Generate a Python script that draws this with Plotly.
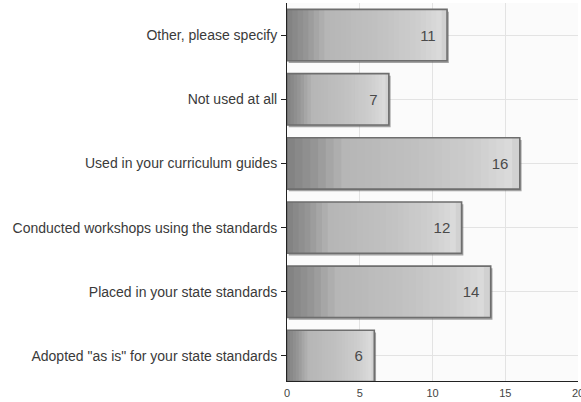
import plotly.graph_objects as go

categories = [
    'Adopted "as is" for your state standards',
    "Placed in your state standards",
    "Conducted workshops using the standards",
    "Used in your curriculum guides",
    "Not used at all",
    "Other, please specify",
]
values = [6, 14, 12, 16, 7, 11]
x_ticks = [0, 5, 10, 15, 20]

# gradient stops (fraction of bar length, gray level)
stops = [(0.0, 128), (0.12, 150), (0.25, 182), (0.55, 192), (0.8, 205), (0.95, 218), (1.0, 205)]

def gray_at(f):
    for (f0, g0), (f1, g1) in zip(stops[:-1], stops[1:]):
        if f0 <= f <= f1:
            t = (f - f0) / (f1 - f0) if f1 > f0 else 0
            return int(round(g0 + t * (g1 - g0)))
    return stops[-1][1]

N = 30
W = 0.80
fig = go.Figure()

# shadow
fig.add_trace(go.Bar(
    y=categories, x=values, base=[0.12] * len(values), orientation="h",
    width=W, offset=-W / 2 - 0.035,
    marker=dict(color="rgba(90,90,90,0.55)", line=dict(width=0)),
    hoverinfo="skip", showlegend=False,
))

for i in range(N):
    f0 = i / N
    g = gray_at(f0 + 0.5 / N)
    fig.add_trace(go.Bar(
        y=categories,
        x=[v * (1 - f0) for v in values],
        base=[v * f0 for v in values],
        orientation="h", width=W, offset=-W / 2,
        marker=dict(color=f"rgb({g},{g},{g})", line=dict(width=0)),
        hoverinfo="skip", showlegend=False,
    ))

# outline + labels
fig.add_trace(go.Bar(
    y=categories, x=values, orientation="h", width=W, offset=-W / 2,
    marker=dict(color="rgba(0,0,0,0)", line=dict(color="#6e6e6e", width=1.6)),
    text=[str(v) + "  " for v in values], textposition="inside", insidetextanchor="end",
    textfont=dict(family="Liberation Sans, Arial, sans-serif", size=15, color="#4a4a4a"),
    showlegend=False,
))

fig.update_layout(
    width=581, height=402,
    margin=dict(l=287, r=3, t=3, b=21, autoexpand=False),
    barmode="overlay",
    paper_bgcolor="white",
    plot_bgcolor="#fbfbfb",
    font=dict(family="Liberation Sans, Arial, sans-serif", color="#333333"),
)
fig.update_xaxes(
    range=[0, 20], tickvals=x_ticks, ticktext=[str(t) for t in x_ticks],
    showgrid=True, gridcolor="#e3e3e3", gridwidth=1, zeroline=False,
    showline=True, linecolor="#222222", linewidth=1,
    ticks="", tickfont=dict(size=11, color="#444444"), ticklabelstandoff=2,
    ticklabeloverflow="allow",
)
fig.update_yaxes(
    categoryorder="array", categoryarray=categories,
    range=[-0.39, 5.5],
    showgrid=True, gridcolor="#e3e3e3", gridwidth=1,
    showline=True, linecolor="#222222", linewidth=1,
    ticks="outside", ticklen=5, tickcolor="#222222", ticklabelstandoff=1,
    tickfont=dict(size=14, color="#3a3a3a"),
)

fig.write_html(
    "out.html",
    config={"displayModeBar": False},
    post_script="document.body.style.margin='0';document.body.style.overflow='hidden';",
)
